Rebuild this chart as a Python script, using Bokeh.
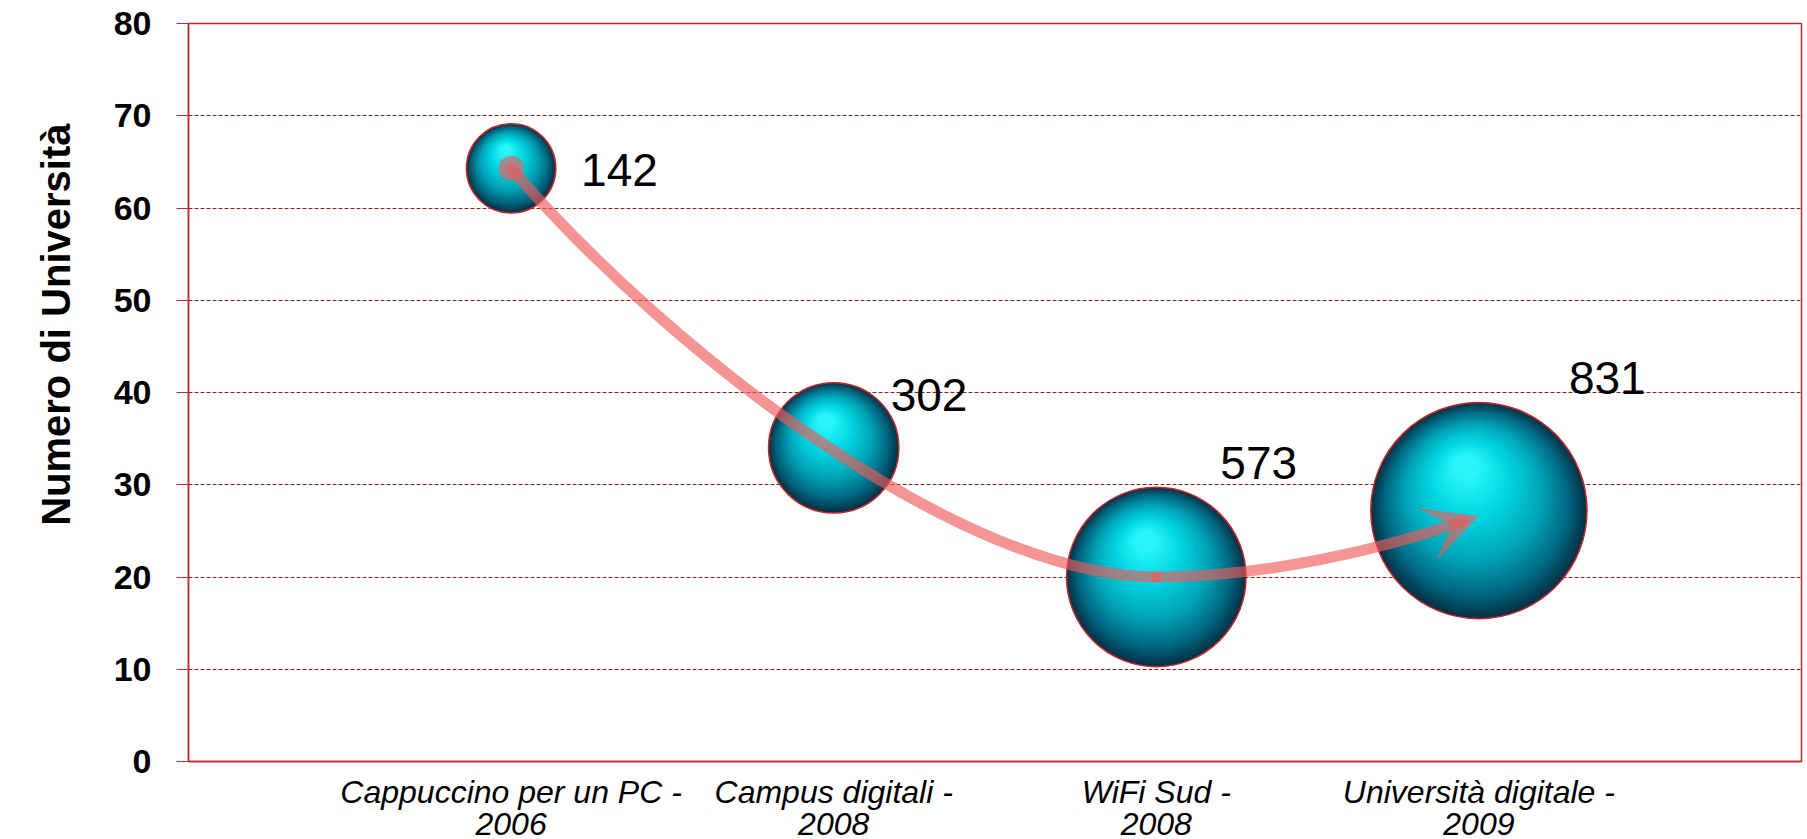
import numpy as np
from bokeh.plotting import figure
from bokeh.models import Range1d, FixedTicker, ColumnDataSource, Title, Arrow, VeeHead
from bokeh.core.properties import value
from bokeh.embed import file_html
from bokeh.resources import INLINE

# ---------------- data ----------------
categories = ["Cappuccino per un PC -\n2006", "Campus digitali -\n2008",
              "WiFi Sud -\n2008", "Università digitale -\n2009"]
x_pos = [1, 2, 3, 4]
num_universita = [64.3, 34.0, 20.0, 27.2]
bubble_size = [142, 302, 573, 831]
bubble_labels = ["142", "302", "573", "831"]
y_ticks = [0, 10, 20, 30, 40, 50, 60, 70, 80]
grid_ticks = [10, 20, 30, 40, 50, 60, 70]
y_title = "Numero di Università"

# ---------------- styles / layout ----------------
FONT = "Liberation Sans"
RED = "#C0282D"
GRID = "#8B2222"
CURVE = "#EE5A5A"
CURVE_ALPHA = 0.65
FRAME_W, FRAME_H = 1613, 738
X_MAX, Y_MAX = 5, 80
px_x = FRAME_W / X_MAX
px_y = FRAME_H / Y_MAX
K = 3.75              # bubble radius in px per sqrt(size)
N_LAYERS = 40
label_dx = [70, 57, 64, 90]       # px offsets of data labels from bubble centre
label_dy_up = [-2, 53, 114, 133]

p = figure(frame_width=FRAME_W, frame_height=FRAME_H,
           min_border_left=188, min_border_right=6, min_border_top=23, min_border_bottom=78,
           x_range=Range1d(0, X_MAX), y_range=Range1d(0, Y_MAX),
           output_backend="svg", toolbar_location=None, tools="")
p.background_fill_color = "white"
p.border_fill_color = "white"
p.outline_line_color = RED
p.outline_line_width = 1.5

# y axis
p.yaxis.ticker = FixedTicker(ticks=y_ticks)
p.yaxis.axis_line_color = RED
p.yaxis.axis_line_width = 1.5
p.yaxis.major_tick_line_color = RED
p.yaxis.major_tick_in = 0
p.yaxis.major_tick_out = 12
p.yaxis.minor_tick_line_color = None
p.yaxis.major_label_standoff = 25
p.yaxis.major_label_text_font = FONT
p.yaxis.major_label_text_font_style = "bold"
p.yaxis.major_label_text_font_size = "34px"
p.yaxis.major_label_text_color = "black"

# y title (off-centre and far left, as in the reference)
p.add_layout(Title(text=y_title, align="right", vertical_align="top", offset=100, standoff=62,
                   text_font=FONT, text_font_style="bold", text_font_size="40px",
                   text_color="black"), "left")

# x axis
p.xaxis.ticker = FixedTicker(ticks=x_pos)
p.xaxis.major_label_overrides = {x: c for x, c in zip(x_pos, categories)}
p.xaxis.axis_line_color = RED
p.xaxis.axis_line_width = 1.5
p.xaxis.major_tick_in = 0
p.xaxis.major_tick_out = 0
p.xaxis.minor_tick_line_color = None
p.xaxis.major_label_standoff = 12
p.xaxis.major_label_text_font = FONT
p.xaxis.major_label_text_font_style = "italic"
p.xaxis.major_label_text_font_size = "32px"
p.xaxis.major_label_text_line_height = 0.9
p.xaxis.major_label_text_color = "black"

# grids
p.xgrid.grid_line_color = None
p.ygrid.ticker = FixedTicker(ticks=grid_ticks)
p.ygrid.grid_line_color = GRID
p.ygrid.grid_line_dash = "4 2"
p.ygrid.grid_line_width = 1

# ---------------- spheres (layered shading) ----------------
stops = [(0.0, (5, 50, 70)), (0.15, (0, 100, 125)), (0.4, (0, 162, 182)),
         (0.7, (0, 212, 224)), (1.0, (40, 245, 250))]


def shade(t):
    for (t0, c0), (t1, c1) in zip(stops, stops[1:]):
        if t <= t1:
            f = (t - t0) / (t1 - t0)
            return "#%02x%02x%02x" % tuple(int(round(a + (b - a) * f)) for a, b in zip(c0, c1))
    return "#%02x%02x%02x" % stops[-1][1]


lx, ly, ls, lc = [], [], [], []
radii = []
for xi, yi, si in zip(x_pos, num_universita, bubble_size):
    r = K * np.sqrt(si)
    radii.append(r)
    for k in range(N_LAYERS):
        t = k / (N_LAYERS - 1)
        rk = r * (1 - 0.88 * t)
        dx = -0.12 * r * t
        dy = 0.40 * r * t
        lx.append(xi + dx / px_x)
        ly.append(yi + dy / px_y)
        ls.append(2 * rk)
        lc.append(shade(t))

layer_src = ColumnDataSource(dict(x=lx, y=ly, s=ls, c=lc))
p.scatter(x="x", y="y", size="s", fill_color="c", line_alpha=0, source=layer_src)

outline_src = ColumnDataSource(dict(x=x_pos, y=num_universita, s=[2 * r for r in radii]))
p.scatter(x="x", y="y", size="s", fill_alpha=0, line_color=RED, line_width=1.5, source=outline_src)

# ---------------- connecting curve with arrow ----------------
x0, y0 = x_pos[0], num_universita[0]
x3, y3 = x_pos[2], num_universita[2]
x4, y4 = x_pos[3], num_universita[3] - 0.6
c1 = (x0 + 0.5, num_universita[1] + 10)
c2 = (x3 - 0.6, y3)
c3 = (x3 + 0.35, y3)
c4 = (x4 - 0.28, y4 - 3.4)
p.bezier(x0=[x0, x3], y0=[y0, y3], x1=[x3, x4 - 0.05], y1=[y3, y4 - 0.55],
         cx0=[c1[0], c3[0]], cy0=[c1[1], c3[1]], cx1=[c2[0], c4[0]], cy1=[c2[1], c4[1]],
         line_color=CURVE, line_alpha=CURVE_ALPHA, line_width=11, line_cap="round")
p.scatter(x=[x0], y=[y0], size=25, fill_color=CURVE, fill_alpha=CURVE_ALPHA, line_alpha=0)
p.add_layout(Arrow(end=VeeHead(size=55, fill_color=CURVE, fill_alpha=CURVE_ALPHA, line_alpha=0),
                   x_start=c4[0], y_start=c4[1], x_end=x4, y_end=y4, line_alpha=0))

# ---------------- data labels ----------------
lab_src = ColumnDataSource(dict(x=x_pos, y=num_universita, t=bubble_labels,
                                dx=label_dx, dy=[-d for d in label_dy_up]))
p.text(x="x", y="y", text="t", x_offset="dx", y_offset="dy", source=lab_src,
       text_font=value(FONT), text_font_size="46px", text_color="black",
       text_align="left", text_baseline="middle")

open("out.html", "w").write(file_html(p, INLINE))
